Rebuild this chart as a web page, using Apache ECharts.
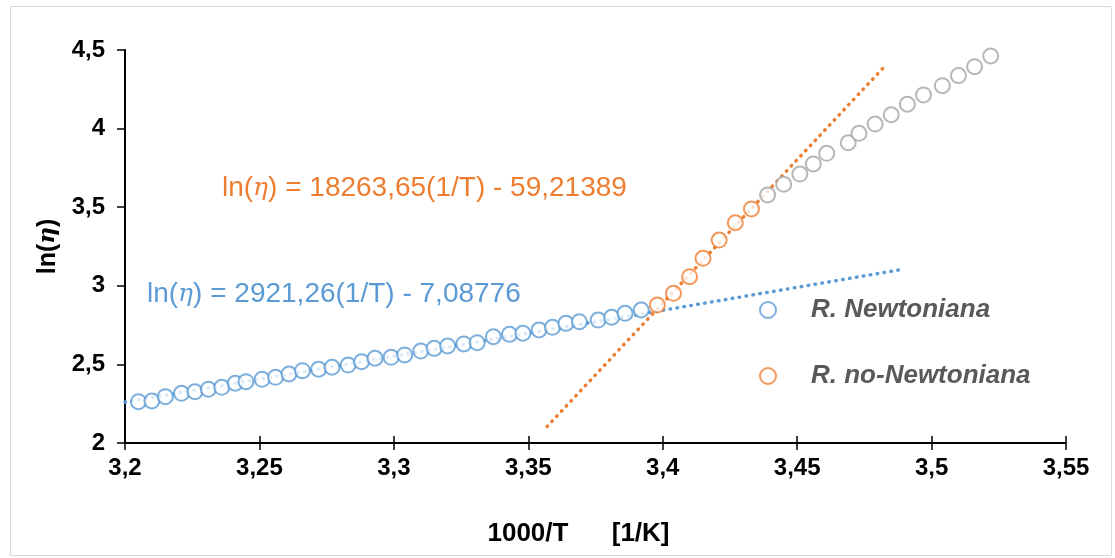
<!DOCTYPE html>
<html>
<head>
<meta charset="utf-8">
<script src="https://cdn.jsdelivr.net/npm/echarts@6/dist/echarts.min.js"></script>
<style>
html,body{margin:0;padding:0;background:#fff;}
#chart{width:1115px;height:558px;}
</style>
</head>
<body>
<div id="chart"></div>
<script>
// ---- data ----
var blueX = [3.205,3.210,3.215,3.221,3.226,3.231,3.236,3.241,3.245,3.251,3.256,3.261,3.266,3.272,3.277,3.283,3.288,3.293,3.299,3.304,3.310,3.315,3.320,3.326,3.331,3.337,3.343,3.348,3.354,3.359,3.364,3.369,3.376,3.381,3.386,3.392];
var blueY = [2.263,2.267,2.295,2.316,2.326,2.342,2.354,2.380,2.390,2.405,2.418,2.439,2.460,2.469,2.482,2.496,2.517,2.539,2.545,2.560,2.585,2.602,2.617,2.630,2.638,2.676,2.691,2.698,2.719,2.736,2.761,2.772,2.782,2.800,2.825,2.846];
var orangeX = [3.398,3.404,3.410,3.415,3.421,3.427,3.433];
var orangeY = [2.878,2.952,3.058,3.175,3.291,3.401,3.489];
var grayX = [3.439,3.445,3.451,3.456,3.461,3.469,3.473,3.479,3.485,3.491,3.497,3.504,3.510,3.516,3.522];
var grayY = [3.578,3.646,3.711,3.775,3.843,3.910,3.970,4.029,4.088,4.155,4.214,4.273,4.337,4.394,4.462];
var blueTrendX = [3.200, 3.490];
var blueTrendY = [2.260, 3.107];
var orangeTrendX = [3.357, 3.482];
var orangeTrendY = [2.105, 4.386];
var seriesNames = ['R. Newtoniana', 'R. no-Newtoniana'];
var xTitle = '1000/T      [1/K]';
var blueEq = ['ln(', 'η', ') = 2921,26(1/T) - 7,08776'];
var orangeEq = ['ln(', 'η', ') = 18263,65(1/T) - 59,21389'];

function zip(xs, ys){ return xs.map(function(x,i){ return [x, ys[i]]; }); }
function fmt(v){ return String(Number(v.toFixed(2))).replace('.', ','); }

var FONT = "'Liberation Sans', Arial, sans-serif";
var BLUE = '#5B9BD5', ORANGE = '#ED7D31', GRAY = '#A5A5A5';

var chart = echarts.init(document.getElementById('chart'));
var dotLine = function(c){ return {color:c, width:3.5, type:[0.5,6.5], cap:'round'}; };

chart.setOption({
  animation:false,
  backgroundColor:'#fff',
  grid:{left:125, right:49, top:50, bottom:115, containLabel:false},
  xAxis:[{
    type:'value', min:3.2, max:3.55, interval:0.05,
    axisLine:{show:true, onZero:false, lineStyle:{color:'#000', width:2}},
    axisTick:{show:true, inside:false, length:7, lineStyle:{color:'#000', width:1.5}},
    splitLine:{show:false},
    axisLabel:{formatter:fmt, color:'#000', fontFamily:FONT, fontWeight:'bold', fontSize:24, margin:13},
    name:xTitle, nameLocation:'middle', nameGap:78,
    nameTextStyle:{color:'#000', fontFamily:FONT, fontWeight:'bold', fontSize:26, padding:[0,34,0,0]}
  },{
    type:'value', min:3.2, max:3.55, interval:0.05, position:'bottom',
    axisLine:{show:false}, axisLabel:{show:false}, splitLine:{show:false},
    axisTick:{show:true, inside:true, length:7, lineStyle:{color:'#000', width:1.5}}
  }],
  yAxis:{
    type:'value', min:2, max:4.5, interval:0.5,
    axisLine:{show:true, onZero:false, lineStyle:{color:'#000', width:2}},
    axisTick:{show:true, inside:false, length:8, lineStyle:{color:'#000', width:1.5}},
    splitLine:{show:false},
    axisLabel:{formatter:fmt, color:'#000', fontFamily:FONT, fontWeight:'bold', fontSize:24, margin:20},
    name:'{a|ln(}{e|η}{a|)}', nameLocation:'middle', nameGap:64, nameRotate:90,
    nameTextStyle:{rich:{
      a:{color:'#000', fontFamily:FONT, fontWeight:'bold', fontSize:25},
      e:{color:'#000', fontFamily:"'DejaVu Serif', serif", fontStyle:'italic', fontWeight:'bold', fontSize:23}
    }}
  },
  legend:{
    orient:'vertical', left:754, top:292, itemGap:40,
    itemWidth:16, itemHeight:16, icon:'emptyCircle',
    data:seriesNames,
    textStyle:{color:'#595959', fontFamily:FONT, fontWeight:'bold', fontStyle:'italic', fontSize:26, padding:[0,0,0,30]}
  },
  series:[
    {type:'line', data:zip(blueTrendX, blueTrendY), showSymbol:false, symbol:'none', lineStyle:dotLine(BLUE), z:1, silent:true},
    {type:'line', data:zip(orangeTrendX, orangeTrendY), showSymbol:false, symbol:'none', lineStyle:dotLine(ORANGE), z:1, silent:true},
    {name:seriesNames[0], type:'scatter', data:zip(blueX, blueY), symbol:'emptyCircle', symbolSize:15,
     itemStyle:{color:BLUE, borderColor:BLUE, borderWidth:2}, z:2},
    {name:seriesNames[1], type:'scatter', data:zip(orangeX, orangeY), symbol:'emptyCircle', symbolSize:15,
     itemStyle:{color:ORANGE, borderColor:ORANGE, borderWidth:2}, z:2},
    {name:'gray', type:'scatter', data:zip(grayX, grayY), symbol:'emptyCircle', symbolSize:15,
     itemStyle:{color:GRAY, borderColor:GRAY, borderWidth:2}, z:2}
  ],
  graphic:[
    {type:'rect', left:8, top:4, shape:{width:1101, height:549}, style:{fill:'none', stroke:'#D9D9D9', lineWidth:1}, silent:true, z:-1},
    {type:'text', left:147, top:280, style:{
      text:'{a|'+blueEq[0]+'}{e|'+blueEq[1]+'}{a|'+blueEq[2]+'}',
      rich:{a:{fill:BLUE, fontFamily:FONT, fontSize:28}, e:{fill:BLUE, fontFamily:"'DejaVu Serif', serif", fontStyle:'italic', fontSize:25}}
    }},
    {type:'text', left:222, top:174, style:{
      text:'{a|'+orangeEq[0]+'}{e|'+orangeEq[1]+'}{a|'+orangeEq[2]+'}',
      rich:{a:{fill:ORANGE, fontFamily:FONT, fontSize:28}, e:{fill:ORANGE, fontFamily:"'DejaVu Serif', serif", fontStyle:'italic', fontSize:25}}
    }}
  ]
});
</script>
</body>
</html>
